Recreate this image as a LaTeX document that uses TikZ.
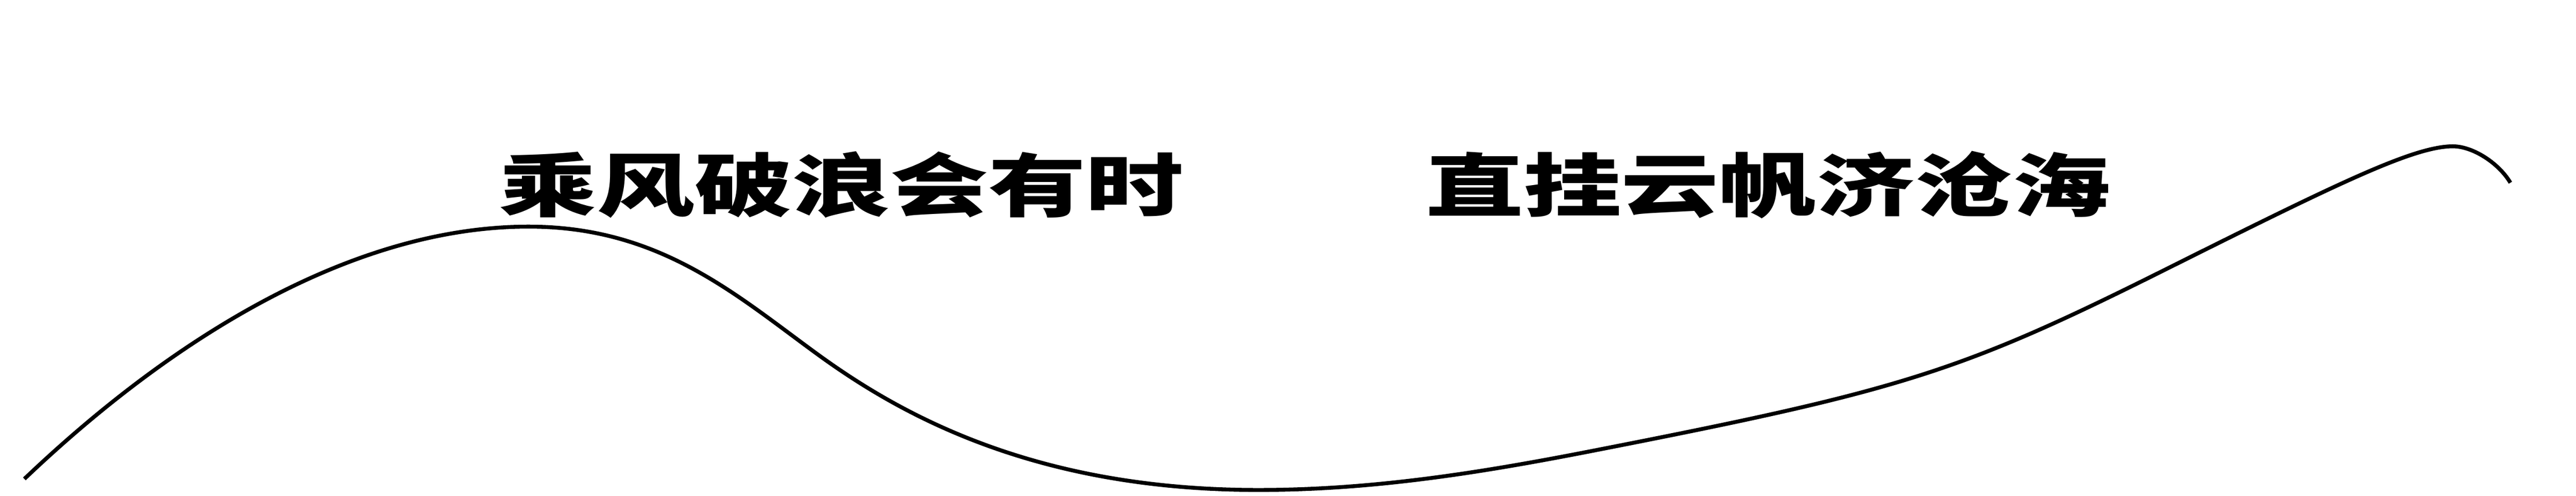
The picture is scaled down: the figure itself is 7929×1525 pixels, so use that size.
\documentclass[tikz,border=0pt]{standalone}
\usepackage{fontspec}
\newfontfamily\cjk{Noto Sans CJK SC}
\begin{document}
\begin{tikzpicture}[x=0.01cm,y=-0.01cm,
  wave/.style={line width=1.2mm, black},
  verse/.style={inner sep=0pt, anchor=base, font=\fontsize{60.3pt}{60.3pt}\selectfont\cjk\bfseries}]
\useasboundingbox (0,0) rectangle (7929,1525);
\fill[white] (0,0) rectangle (7929,1525);
\node[verse] (v1) at (2590,649) {\scalebox{1.42}[1]{乘风破浪会有时}};
\node[verse] (v2) at (5442,649) {\scalebox{1.42}[1]{直挂云帆济沧海}};
\coordinate (s)  at (75,1473);
\coordinate (p1) at (1627,697);
\coordinate (i1) at (2510,1085);
\coordinate (t1) at (3873,1507);
\coordinate (m1) at (4900,1387);
\coordinate (m2) at (6675,824);
\coordinate (p2) at (7550,450);
\coordinate (e)  at (7727,562);
\draw[wave] (s)
  .. controls (565,1007) and (1112,697) .. (p1)
  .. controls (2027,697) and (2260,902.5) .. (i1)
  .. controls (2760,1267.5) and (3173,1507) .. (t1)
  .. controls (4223,1507) and (4550,1455.3) .. (m1)
  .. controls (5858,1200) and (6035,1144) .. (m2)
  .. controls (7200,562) and (7430,450) .. (p2)
  .. controls (7610,450) and (7690,500) .. (e);
\end{tikzpicture}
\end{document}
